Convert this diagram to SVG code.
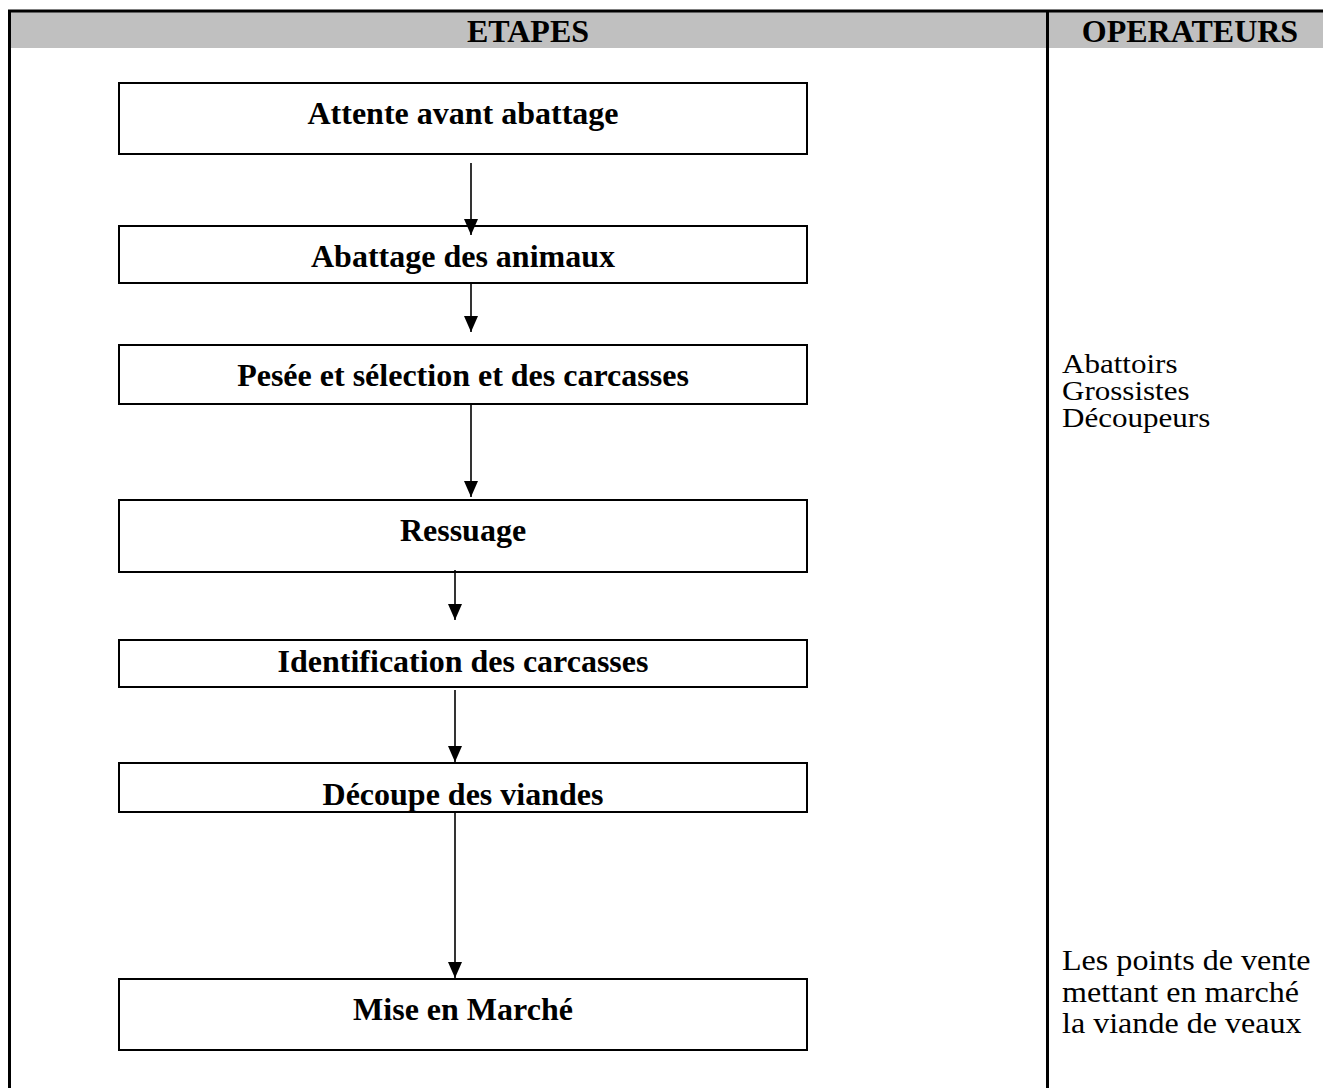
<svg xmlns="http://www.w3.org/2000/svg" width="1323" height="1088" viewBox="0 0 1323 1088">
<defs>
<style>
.box{fill:#fff;stroke:#000;stroke-width:2}
.lbl{font-family:"Liberation Serif","Times New Roman",serif;font-weight:bold;font-size:32px;fill:#000;text-anchor:middle}
.op{font-family:"Liberation Serif","Times New Roman",serif;fill:#000}
.hdr{font-family:"Liberation Serif","Times New Roman",serif;font-weight:bold;font-size:32px;fill:#000;text-anchor:middle}
.conn{stroke:#000;stroke-width:1.6;fill:none}
</style>
<marker id="ah" markerUnits="userSpaceOnUse" markerWidth="16" markerHeight="14" refX="16" refY="7" orient="auto" viewBox="0 0 16 14">
<path d="M0,0 L16,7 L0,14 Z" fill="#000"/>
</marker>
<clipPath id="c6"><rect x="119" y="763" width="688" height="48"/></clipPath>
</defs>
<rect x="0" y="0" width="1323" height="1088" fill="#fff"/>
<g id="table">
<rect x="10" y="12" width="1313" height="36" fill="#c0c0c0"/>
<line x1="8" y1="11" x2="1323" y2="11" stroke="#000" stroke-width="3"/>
<line x1="9.5" y1="10" x2="9.5" y2="1088" stroke="#000" stroke-width="3"/>
<line x1="1047.5" y1="10" x2="1047.5" y2="1088" stroke="#000" stroke-width="3"/>
<text class="hdr" x="528" y="42">ETAPES</text>
<text class="hdr" x="1190" y="42">OPERATEURS</text>
</g>
<g id="n1"><rect class="box" x="119" y="83" width="688" height="71"/><text class="lbl" x="463" y="124">Attente avant abattage</text></g>
<g id="n2"><rect class="box" x="119" y="226" width="688" height="57"/><text class="lbl" x="463" y="267">Abattage des animaux</text></g>
<g id="n3"><rect class="box" x="119" y="345" width="688" height="59"/><text class="lbl" x="463" y="386">Pesée et sélection et des carcasses</text></g>
<g id="n4"><rect class="box" x="119" y="500" width="688" height="72"/><text class="lbl" x="463" y="541">Ressuage</text></g>
<g id="n5"><rect class="box" x="119" y="640" width="688" height="47"/><text class="lbl" x="463" y="672">Identification des carcasses</text></g>
<g id="n6"><rect class="box" x="119" y="763" width="688" height="49"/><text class="lbl" x="463" y="805" clip-path="url(#c6)">Découpe des viandes</text></g>
<g id="n7"><rect class="box" x="119" y="979" width="688" height="71"/><text class="lbl" x="463" y="1020">Mise en Marché</text></g>
<g id="connectors">
<line class="conn" x1="471" y1="163" x2="471" y2="235" marker-end="url(#ah)"/>
<line class="conn" x1="471" y1="283" x2="471" y2="332" marker-end="url(#ah)"/>
<line class="conn" x1="471" y1="404" x2="471" y2="497" marker-end="url(#ah)"/>
<line class="conn" x1="455" y1="570" x2="455" y2="620" marker-end="url(#ah)"/>
<line class="conn" x1="455" y1="690" x2="455" y2="762" marker-end="url(#ah)"/>
<line class="conn" x1="455" y1="812" x2="455" y2="978" marker-end="url(#ah)"/>
</g>
<g id="op1" transform="translate(1062,0) scale(1.15,1)">
<text class="op" font-size="27" x="0" y="373">Abattoirs</text>
<text class="op" font-size="27" x="0" y="400">Grossistes</text>
<text class="op" font-size="27" x="0" y="427">Découpeurs</text>
</g>
<g id="op2" transform="translate(1062,0) scale(1.07,1)">
<text class="op" font-size="30" x="0" y="970">Les points de vente</text>
<text class="op" font-size="30" x="0" y="1002">mettant en marché</text>
<text class="op" font-size="30" x="0" y="1033">la viande de veaux</text>
</g>
</svg>
